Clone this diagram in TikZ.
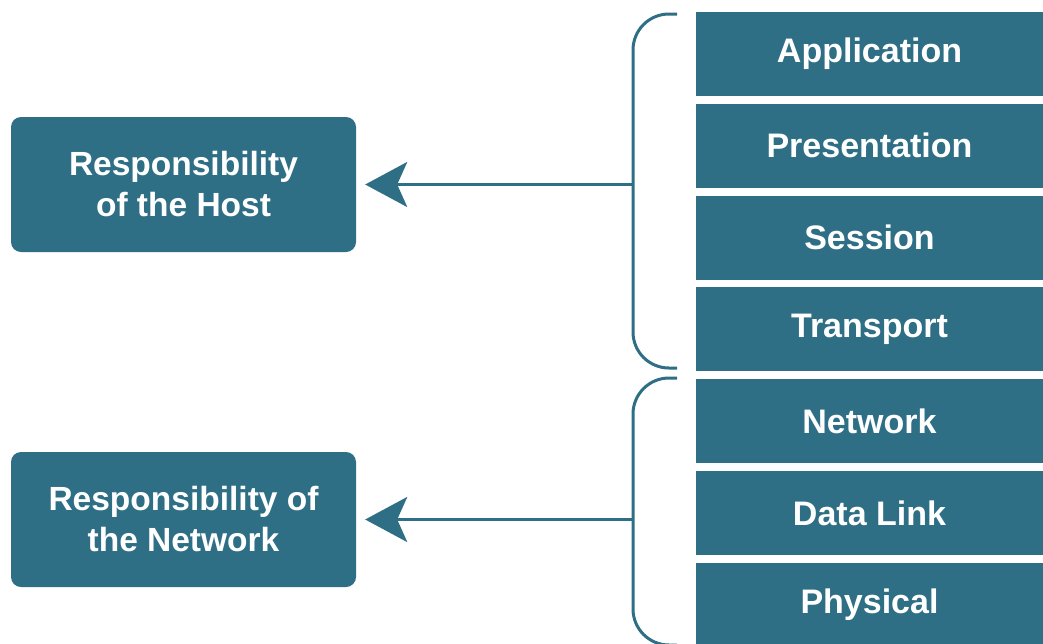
\documentclass[tikz,border=0pt]{standalone}
\usepackage{fontspec}
\setmainfont{Liberation Sans}
\usepackage{tikz}
\usetikzlibrary{arrows.meta,positioning}
\definecolor{ositeal}{HTML}{2F6F86}
\tikzset{% 
  layer box/.style={%
    rectangle,
    fill=ositeal,
    text=white,
    minimum width=348pt,
    minimum height=84pt,
    inner sep=0pt,
    font=\fontsize{34}{40}\selectfont\bfseries
  }
}
\tikzset{% 
  duty box/.style={%
    rectangle,
    rounded corners=10pt,
    fill=ositeal,
    text=white,
    minimum width=345pt,
    minimum height=135pt,
    align=center,
    font=\fontsize{33.5}{41}\selectfont\bfseries
  }
}
\tikzset{% 
  brace line/.style={%
    draw=ositeal,
    line width=3pt,
    rounded corners=36pt
  }
}
\tikzset{% 
  duty arrow/.style={%
    draw=ositeal,
    line width=3pt,
    shorten >=9pt,
    -{Stealth[length=42pt,width=45pt,inset=10pt]}
  }
}

\begin{document}
\begin{tikzpicture}[x=1pt,y=-1pt]
  \useasboundingbox (0,0) rectangle (1043,643);
  % the seven layers
  \node [layer box] (app) at (869.5, 54) {Application};
  \node [layer box] (pres) at (869.5, 145.8) {Presentation};
  \node [layer box] (sess) at (869.5, 237.6) {Session};
  \node [layer box] (trans) at (869.5, 329.4) {Transport};
  \node [layer box] (net) at (869.5, 421.2) {Network};
  \node [layer box] (link) at (869.5, 513) {Data Link};
  \node [layer box] (phys) at (869.5, 604.8) {Physical};
  % who is responsible
  \node [duty box] (host) at (183.5, 184.5) {Responsibility\\of the Host};
  \node [duty box] (network) at (183.5, 519.5) {Responsibility of\\the Network};
  % braces
  \draw [brace line] (677, 14) -- (633, 14) -- (633, 368) -- (677, 368);
  \draw [brace line] (677, 378) -- (633, 378) -- (633, 645) -- (677, 645);
  \coordinate (hostbrace) at (633, 184.5);
  \coordinate (netbrace) at (633, 519.5);
  \draw [duty arrow] (hostbrace) -- (host);
  \draw [duty arrow] (netbrace) -- (network);
\end{tikzpicture}
\end{document}
